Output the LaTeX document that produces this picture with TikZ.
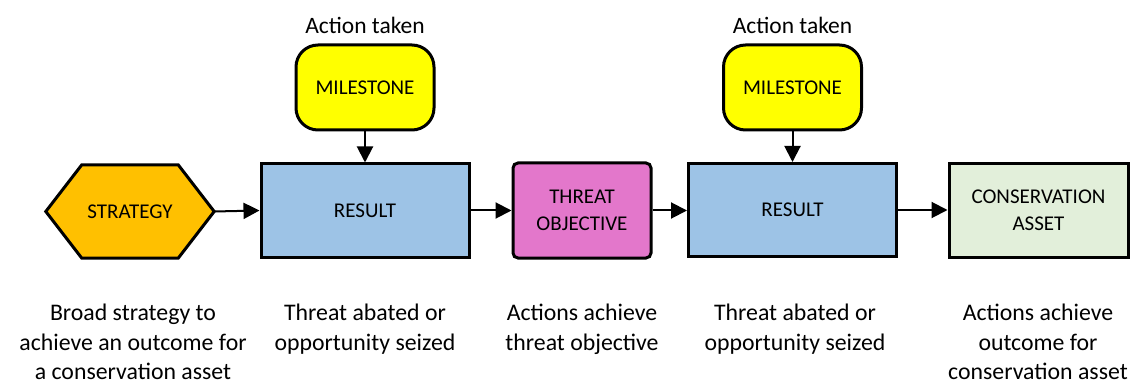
\documentclass[tikz,border=0pt]{standalone}
\usepackage{fontspec}
\setmainfont{Carlito}
\usetikzlibrary{arrows.meta,backgrounds}

\definecolor{stratfill}{HTML}{FFC000}
\definecolor{resultfill}{HTML}{9DC3E6}
\definecolor{threatfill}{HTML}{E377CB}
\definecolor{milefill}{HTML}{FFFF00}
\definecolor{assetfill}{HTML}{E2EFDA}

\tikzset{
  boxtext/.style={font=\fontsize{21}{26.5}\selectfont, align=center, text=black},
  boxbase/.style={boxtext, draw=black, line width=3pt, inner sep=0pt},
  resultbox/.style={boxbase, fill=resultfill, minimum width=208pt, minimum height=93pt},
  threatbox/.style={boxbase, fill=threatfill, rounded corners=5pt, minimum width=138pt, minimum height=95pt},
  assetbox/.style={boxbase, fill=assetfill, minimum width=179pt, minimum height=93pt},
  milebox/.style={boxbase, fill=milefill, rounded corners=22pt, minimum width=138pt, minimum height=85pt},
  stratbox/.style={boxtext, inner sep=0pt, minimum width=168pt, minimum height=93pt},
  toplabel/.style={font=\fontsize{23.5}{29.5}\selectfont, inner sep=0pt},
  caption/.style={font=\fontsize{23.8}{29.5}\selectfont, align=center, anchor=north, inner sep=0pt},
  flow/.style={line width=2pt, -{Triangle[length=16pt,width=16pt]}}
}

\begin{document}
\begin{tikzpicture}[x=1pt, y=-1pt]
\useasboundingbox (0,0) rectangle (1134,387);

% main chain
\node[stratbox]  (strategy) at (130,211.5) {STRATEGY};
\node[resultbox] (result1)  at (365,210.5) {RESULT};
\node[threatbox] (threat)   at (582,210.5) {THREAT\\OBJECTIVE};
\node[resultbox] (result2)  at (792.5,210) {RESULT};
\node[assetbox]  (asset)    at (1038.5,210.5) {CONSERVATION\\ASSET};

% hexagon outline behind the strategy label
\begin{scope}[on background layer]
\draw[line width=3pt, fill=stratfill, line join=miter]
  (strategy.west) -- ([xshift=36pt]strategy.north west) -- ([xshift=-36pt]strategy.north east)
  -- (strategy.east) -- ([xshift=-36pt]strategy.south east) -- ([xshift=36pt]strategy.south west) -- cycle;
\end{scope}

% milestones above the results
\node[milebox] (mile1) at (365,87.5) {MILESTONE};
\node[milebox] (mile2) at (792.5,87.5) {MILESTONE};
\node[toplabel] (act1) at (365,25) {Action taken};
\node[toplabel] (act2) at (792.5,25) {Action taken};

% connectors
\draw[flow] (strategy.east) -- (result1.west);
\draw[flow] (result1.east) -- (result1.east -| threat.west);
\draw[flow] (threat.east) -- (threat.east -| result2.west);
\draw[flow] (result2.east) -- (result2.east -| asset.west);
\draw[flow] (mile1.south) -- (result1.north);
\draw[flow] (mile2.south) -- (result2.north);

% captions
\node[caption] (c1) at (133,304) {Broad strategy to\\achieve an outcome for\\a conservation asset};
\node[caption] (c2) at (365,304) {Threat abated or\\opportunity seized};
\node[caption] (c3) at (582,304) {Actions achieve\\threat objective};
\node[caption] (c4) at (795,304) {Threat abated or\\opportunity seized};
\node[caption] (c5) at (1038,304) {Actions achieve\\outcome for\\conservation asset};
\end{tikzpicture}
\end{document}
